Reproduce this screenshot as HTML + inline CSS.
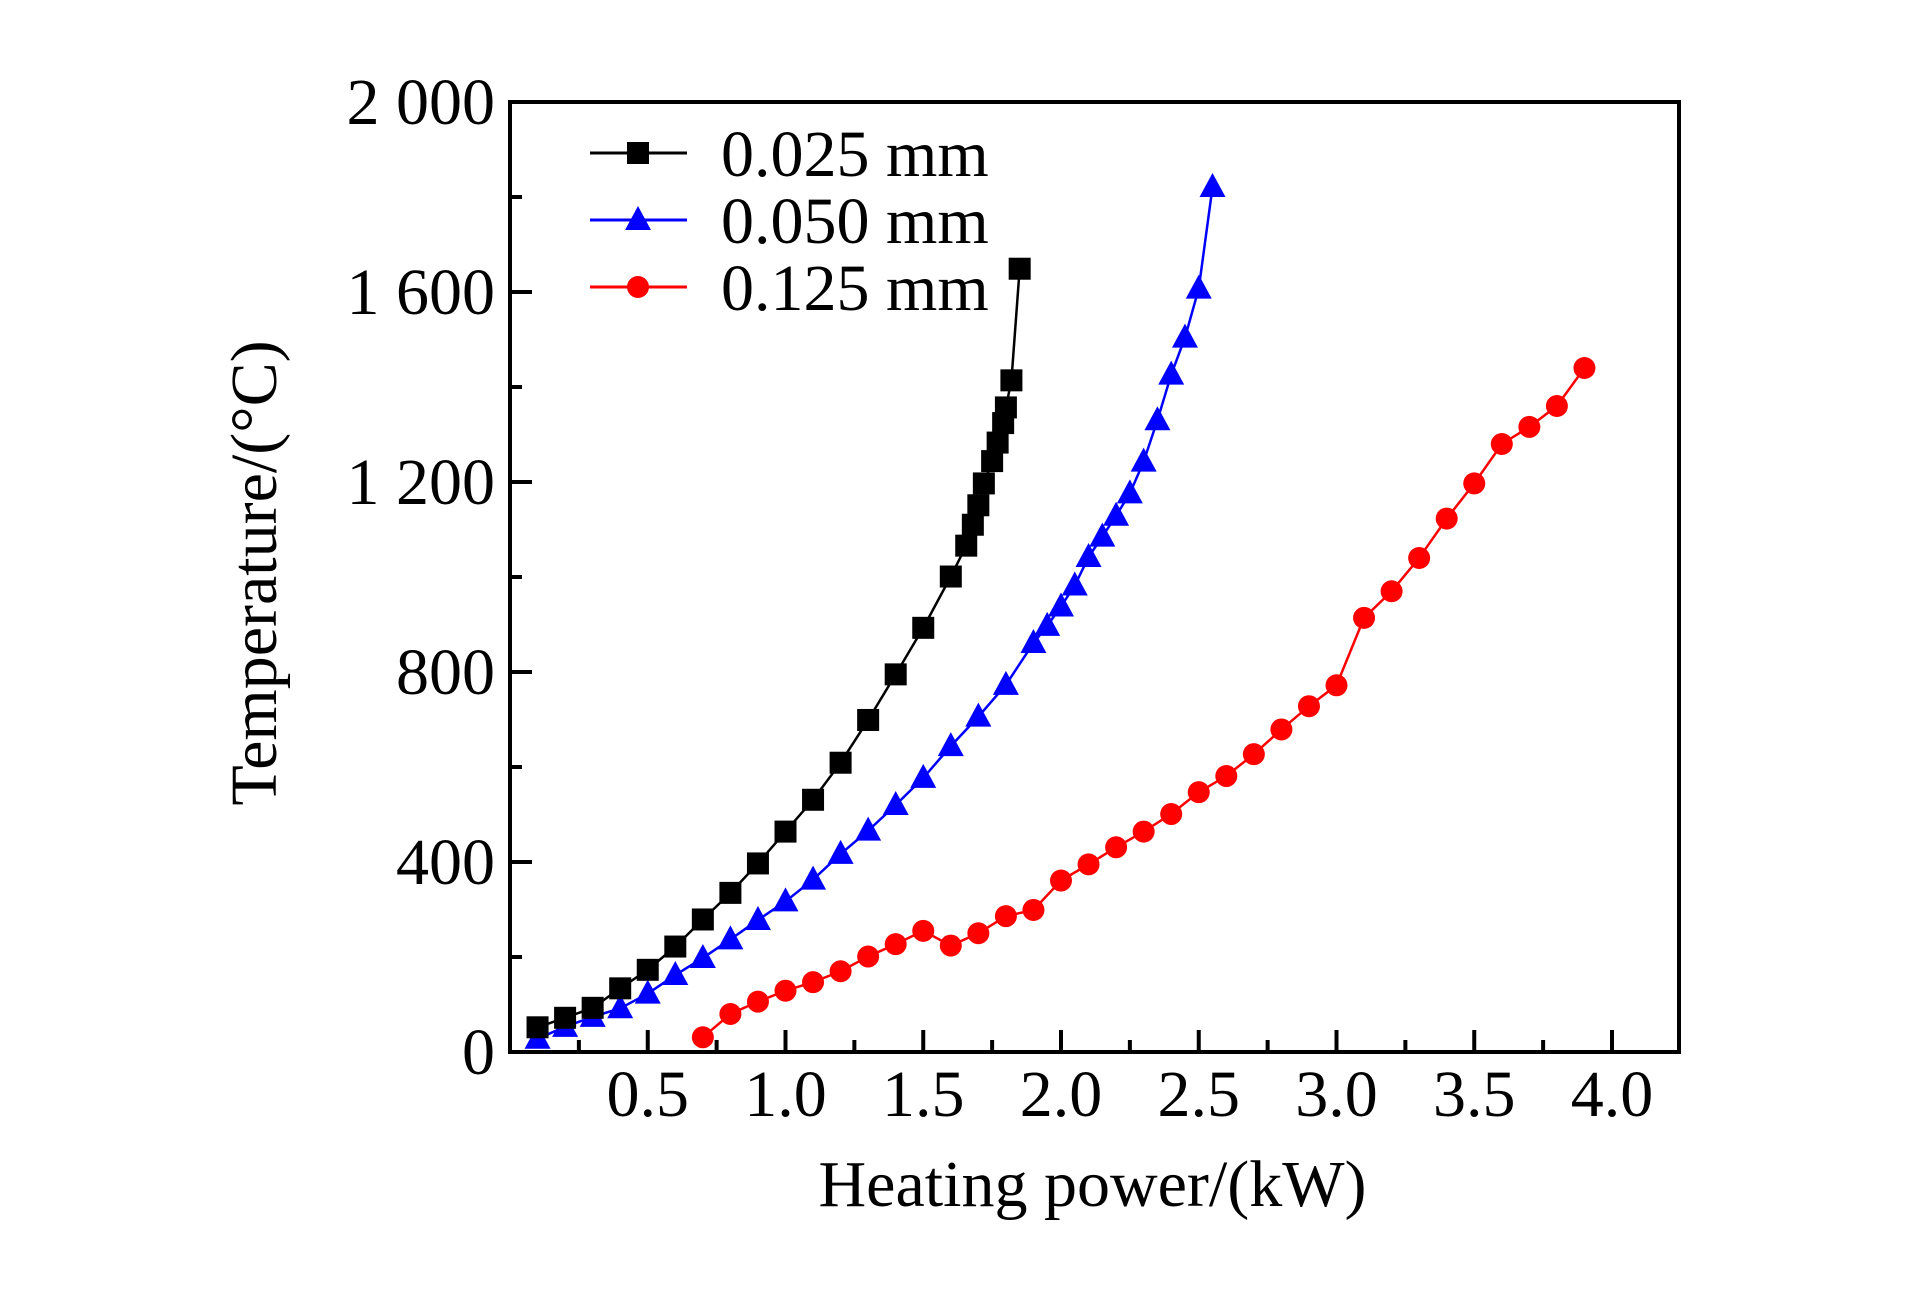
<!DOCTYPE html>
<html><head><meta charset="utf-8"><style>
html,body{margin:0;padding:0;background:#fff;}
svg{display:block;}
text{font-family:"Liberation Serif",serif;fill:#000;}
</style></head><body>
<svg id="chart" width="1923" height="1299" viewBox="0 0 1923 1299">
<g id="plot"></g>
</svg>
<script>
const xThin = [0.1,0.2,0.3,0.4,0.5,0.6,0.7,0.8,0.9,1.0,1.1,1.2,1.3,1.4,1.5,1.6,1.656,1.68,1.7,1.72,1.75,1.77,1.79,1.8,1.82,1.85];
const yThin = [52,72,93,134,173,222,279,335,397,464,531,609,699,795,893,1001,1066,1110,1151,1197,1244,1283,1324,1357,1414,1649];
const xMid = [0.1,0.2,0.3,0.4,0.5,0.6,0.7,0.8,0.9,1.0,1.1,1.2,1.3,1.4,1.5,1.6,1.7,1.8,1.9,1.95,2.0,2.05,2.1,2.15,2.2,2.25,2.3,2.35,2.4,2.45,2.5,2.55];
const yMid = [28,53,74,92,123,162,198,237,278,317,363,417,466,520,577,644,706,773,861,897,938,982,1042,1085,1129,1176,1243,1330,1426,1504,1607,1821];
const xThick = [0.7,0.8,0.9,1.0,1.1,1.2,1.3,1.4,1.5,1.6,1.7,1.8,1.9,2.0,2.1,2.2,2.3,2.4,2.5,2.6,2.7,2.8,2.9,3.0,3.1,3.2,3.3,3.4,3.5,3.6,3.7,3.8,3.9];
const yThick = [31,80,106,129,147,170,201,227,255,224,250,286,299,361,395,431,464,501,547,581,627,679,728,772,914,970,1040,1123,1197,1280,1316,1360,1440];
const xTickLabels = ["0.5","1.0","1.5","2.0","2.5","3.0","3.5","4.0"];
const xTickValues = [0.5,1.0,1.5,2.0,2.5,3.0,3.5,4.0];
const yTickLabels = ["0","400","800","1 200","1 600","2 000"];
const yTickValues = [0,400,800,1200,1600,2000];

const L=510,R=1679,T=102,B=1052,XMAX=(R-L)/275.5,YMAX=2000;
const sx=v=>L+v/XMAX*(R-L);
const sy=v=>B-v/YMAX*(B-T);
const NS="http://www.w3.org/2000/svg";
const g=document.getElementById('plot');
function mk(tag,attrs,parent){const e=document.createElementNS(NS,tag);for(const k in attrs)e.setAttribute(k,attrs[k]);(parent||g).appendChild(e);return e;}

for(let v=0;v<=2000;v+=200){
  const t=mk('line',{x1:L,x2:L+(v%400===0?22:12),y1:sy(v),y2:sy(v),stroke:'#000','stroke-width':4});
  
  
}
for(let v=0.25;v<XMAX;v+=0.25){
  const major=Math.abs(v*2-Math.round(v*2))<1e-6;
  const t=mk('line',{x1:sx(v),x2:sx(v),y1:B,y2:B-(major?22:12),stroke:'#000','stroke-width':4});
  
  
}
yTickLabels.forEach((s,i)=>{
  const t=mk('text',{x:495,y:sy(yTickValues[i])+22,'text-anchor':'end','font-size':66});
  t.textContent=s;
  
  
});
xTickLabels.forEach((s,i)=>{
  const t=mk('text',{x:sx(xTickValues[i]),y:1116,'text-anchor':'middle','font-size':66});
  t.textContent=s;
  
  
});
const frame=mk('rect',{x:L,y:T,width:R-L,height:B-T,fill:'none',stroke:'#000','stroke-width':4});



const xt=mk('text',{x:(L+R)/2-2,y:1206,'text-anchor':'middle','font-size':66});
xt.textContent='Heating power/(kW)';


const yt=mk('text',{x:0,y:0,'text-anchor':'middle','font-size':66,transform:'translate(276,573) rotate(-90)'});
yt.textContent='Temperature/(\u00B0C)';



function marker(type,cx,cy,color,parent){
  if(type==='sq') return mk('rect',{x:cx-11,y:cy-11,width:22,height:22,fill:color},parent);
  if(type==='tri') return mk('polygon',{points:`${cx},${cy-14} ${cx+13},${cy+10} ${cx-13},${cy+10}`,fill:color},parent);
  return mk('circle',{cx:cx,cy:cy,r:11,fill:color},parent);
}
function series(xs,ys,color,type,name){
  const grp=mk('g',{});
  
  
  const ln=mk('polyline',{points:xs.map((x,i)=>sx(x)+','+sy(ys[i])).join(' '),fill:'none',stroke:color,'stroke-width':2.5},grp);
  
  
  xs.forEach((x,i)=>{
    const m=marker(type,sx(x),sy(ys[i]),color,grp);
    
    
  });
}
series(xThick,yThick,'#ff0000','ci','series-0125mm');
series(xMid,yMid,'#0000ff','tri','series-0050mm');
series(xThin,yThin,'#000000','sq','series-0025mm');

const legend=[['0.025 mm','#000','sq',153],['0.050 mm','#0000ff','tri',220],['0.125 mm','#ff0000','ci',287]];
const lg=mk('g',{});


legend.forEach(([lab,c,t,y])=>{
  const e=mk('g',{},lg);
  
  
  mk('line',{x1:590,x2:687,y1:y,y2:y,stroke:c,'stroke-width':3},e);
  marker(t,638,y,c,e);
  const tx=mk('text',{x:721,y:y+23,'font-size':66},e);
  tx.textContent=lab;
});
</script>
</body></html>
